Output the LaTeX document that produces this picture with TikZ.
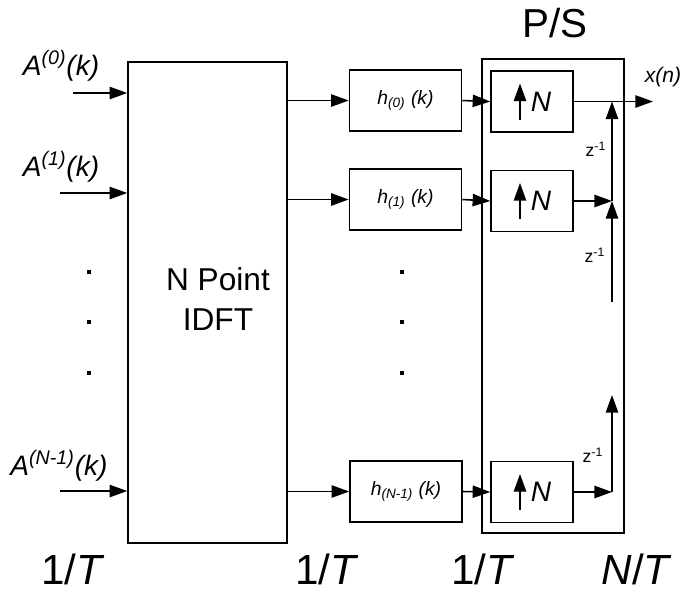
\documentclass[tikz,border=0pt]{standalone}
\usepackage{fontspec}
\setmainfont{Liberation Sans}
\usetikzlibrary{arrows.meta,positioning}

\begin{document}
\begin{tikzpicture}[x=0.02cm, y=-0.02cm,
    blk/.style={draw, line width=0.9pt, inner sep=0pt},
    hblk/.style={blk, minimum width=2.24cm, minimum height=1.22cm,
                 font=\fontsize{11}{13}\selectfont\itshape},
    upblk/.style={blk, minimum width=1.64cm, minimum height=1.22cm,
                  font=\fontsize{16}{18}\selectfont\itshape},
    arr/.style={-{Triangle[length=10pt,width=7pt]}, line width=0.9pt},
    lbl/.style={inner sep=0pt, font=\fontsize{16}{18}\selectfont\itshape},
    rate/.style={inner sep=0pt, font=\fontsize{24}{26}\selectfont},
    zlbl/.style={inner sep=0pt, font=\fontsize{10}{12}\selectfont},
    dot/.style={fill, inner sep=0pt, minimum size=2.5pt}
  ]
  \useasboundingbox (0,0) rectangle (682,593);
  % IDFT block
  \node[blk, minimum width=3.18cm, minimum height=9.62cm] (idft) at (207.5,302.5) {};
  \node[align=center, inner sep=0pt, font=\fontsize{18}{22.8}\selectfont] (idfttxt) at (218,299) {N Point\\IDFT};
  % inputs
  \coordinate (a0) at (73,93);
  \coordinate (a1) at (60,193);
  \coordinate (aN) at (60,491);
  \draw[arr] (a0) -- (a0 -| idft.west);
  \draw[arr] (a1) -- (a1 -| idft.west);
  \draw[arr] (aN) -- (aN -| idft.west);
  \node[lbl] (la0) at (61,66) {A\textsuperscript{(0)}(k)};
  \node[lbl] (la1) at (61,167) {A\textsuperscript{(1)}(k)};
  \node[lbl] (laN) at (59,466) {A\textsuperscript{(N-1)}(k)};
  % filters
  \node[hblk] (h0) at (405.5,100.5) {h\textsubscript{(0)} (k)};
  \node[hblk] (h1) at (405.5,199.5) {h\textsubscript{(1)} (k)};
  \node[hblk] (hN) at (406,491.5) {h\textsubscript{(N-1)} (k)};
  \draw[arr] (h0.west -| idft.east) -- (h0.west);
  \draw[arr] (h1.west -| idft.east) -- (h1.west);
  \draw[arr] (hN.west -| idft.east) -- (hN.west);
  % dots
  \foreach \x in {89,402}
    \foreach \y in {272,322,373}
      \node[dot] (d\x-\y) at (\x,\y) {};
  % P/S converter
  \node[blk, minimum width=2.84cm, minimum height=9.48cm] (ps) at (553,296) {};
  \node[inner sep=0pt, font=\fontsize{23}{25}\selectfont] (pslbl) at (555,23) {P/S};
  \node[upblk] (u0) at (532,101.5) {\hspace*{0.36cm}N};
  \node[upblk] (u1) at (532,201) {\hspace*{0.36cm}N};
  \node[upblk] (uN) at (532,492) {\hspace*{0.36cm}N};
  \foreach \u in {u0,u1,uN}
    \draw[arr] ([shift={(-12,18)}]\u.center) -- ++(0,-36);
  \draw[arr] (h0.east) -- (u0.west);
  \draw[arr] (h1.east) -- (u1.west);
  \draw[arr] (hN.east) -- (uN.west);
  % output and delays
  \coordinate (xo) at (653,101.5);
  \coordinate (j1) at (612,201);
  \coordinate (jN) at (612,492);
  \coordinate (t1) at (612,302);
  \coordinate (tN) at (612,395);
  \draw[arr] (u0.east) -- (xo);
  \node[inner sep=0pt, font=\fontsize{12}{14}\selectfont\itshape] (xn) at (663,77) {x(n)};
  \draw[arr] (u1.east) -- (j1);
  \draw[arr] (uN.east) -- (jN);
  \draw[arr] (j1) -- (j1 |- u0.east);
  \draw[arr] (t1) -- (j1);
  \draw[arr] (jN) -- (tN);
  \node[zlbl] (z1) at (596,149) {z\textsuperscript{-1}};
  \node[zlbl] (z2) at (595,255) {z\textsuperscript{-1}};
  \node[zlbl] (z3) at (593,455) {z\textsuperscript{-1}};
  % rates
  \node[rate] (r1) at (73,569) {1/\textit{T}};
  \node[rate] (r2) at (327,569) {1/\textit{T}};
  \node[rate] (r3) at (483,569) {1/\textit{T}};
  \node[rate] (r4) at (637,569) {\textit{N}/\textit{T}};
\end{tikzpicture}
\end{document}
